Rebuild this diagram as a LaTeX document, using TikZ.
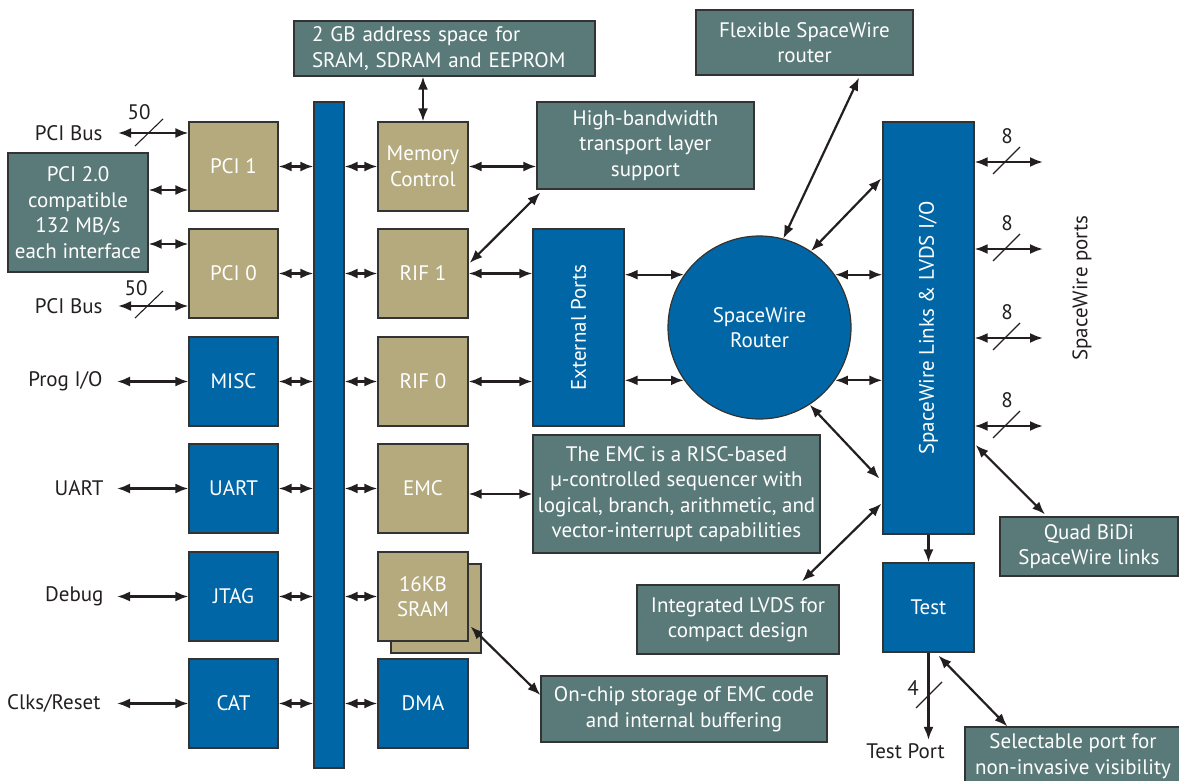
\documentclass[tikz,border=0pt]{standalone}
\usepackage{fontspec}
\setmainfont{PT Sans}
\usetikzlibrary{arrows.meta,calc}
\definecolor{chipblue}{RGB}{0,102,166}
\definecolor{chiptan}{RGB}{180,170,125}
\definecolor{noteteal}{RGB}{90,122,121}
\definecolor{edgegray}{RGB}{51,51,51}
\definecolor{inkblack}{RGB}{35,31,32}
\tikzset{
  >={Latex[length=13pt,width=10pt]},
  blk/.style={draw=edgegray,line width=1.2pt,inner sep=0pt,text=white,align=center},
  blueblk/.style={blk,fill=chipblue,minimum width=89pt,minimum height=89pt},
  tanblk/.style={blk,fill=chiptan,minimum width=90pt,minimum height=89pt},
  note/.style={blk,fill=noteteal},
  lbl/.style={text=inkblack},
  link/.style={<->,line width=2.2pt,draw=inkblack},
  oneway/.style={->,line width=2.2pt,draw=inkblack},
  slash/.style={line width=1.1pt,draw=inkblack},
  buswidth/.style={lbl,font=\fontsize{21}{24}\selectfont},
}
\begin{document}
\begin{tikzpicture}[x=1pt,y=-1pt,font=\fontsize{21}{25.5}\selectfont]
\useasboundingbox (0,0) rectangle (1179,781);

% bus
\node[blk,fill=chipblue,minimum width=30pt,minimum height=666pt] (bus) at (329,435) {};

% left column
\node[tanblk,minimum width=89pt] (pci1) at (233.5,166.5) {PCI 1};
\node[tanblk,minimum width=89pt] (pci0) at (233.5,273.5) {PCI 0};
\node[blueblk] (misc) at (233.5,381.5) {MISC};
\node[blueblk] (uart) at (233.5,488.5) {UART};
\node[blueblk] (jtag) at (233.5,596.5) {JTAG};
\node[blueblk] (cat) at (233.5,703.5) {CAT};

% right column
\node[tanblk] (memctl) at (423,166.5) {Memory\\Control};
\node[tanblk] (rif1) at (423,273.5) {RIF 1};
\node[tanblk] (rif0) at (423,381.5) {RIF 0};
\node[tanblk] (emc) at (423,488.5) {EMC};
\node[tanblk] (sramback) at (436,608.5) {};
\node[tanblk] (sram) at (423,596.5) {16KB\\SRAM};
\node[blueblk,minimum width=90pt] (dma) at (423,703.5) {DMA};

\foreach \n in {pci1,pci0,misc,uart,jtag,cat}
  \draw[link] (\n.east) -- (\n.east -| bus.west);
\foreach \n in {memctl,rif1,rif0,emc,sram,dma}
  \draw[link] (\n.west -| bus.east) -- (\n.west);

% PCI side
\node[lbl,anchor=east] (pcibus1) at (106,133) {PCI Bus};
\node[lbl,anchor=east] (pcibus0) at (106,306) {PCI Bus};
\draw[link] ([xshift=12pt]pcibus1.east) -- (pcibus1.east -| pci1.west);
\draw[link] ([xshift=12pt]pcibus0.east) -- (pcibus0.east -| pci0.west);
\draw[slash] (135,146) -- (163,119);
\node[buswidth] (bw50a) at (139,112) {50};
\draw[slash] (135,318) -- (163,291);
\node[buswidth] (bw50b) at (136,288) {50};

\node[note,minimum width=140pt,minimum height=119pt] (pcinote) at (78,212.5) {PCI 2.0\\compatible\\132 MB/s\\each interface};
\coordinate (p20a) at ($(pcinote.east)+(0,-22.5)$);
\coordinate (p20b) at ($(pcinote.east)+(0,31.5)$);
\draw[link] (p20a) -- (p20a -| pci1.west);
\draw[link] (p20b) -- (p20b -| pci0.west);

% other left inputs
\node[lbl,anchor=east] (progio) at (106,381.5) {Prog I/O};
\node[lbl,anchor=east] (uartio) at (107,488.5) {UART};
\node[lbl,anchor=east] (debug) at (107,596.5) {Debug};
\node[lbl,anchor=east] (clkrst) at (104,703.5) {Clks/Reset};
\draw[link] ([xshift=11pt]progio.east) -- (progio.east -| misc.west);
\draw[link] ([xshift=10pt]uartio.east) -- (uartio.east -| uart.west);
\draw[link] ([xshift=10pt]debug.east) -- (debug.east -| jtag.west);
\draw[link] ([xshift=13pt]clkrst.east) -- (clkrst.east -| cat.west);

% memory and transport notes
\node[note,minimum width=301pt,minimum height=55pt,text width=265pt,align=left] (gbnote) at (444.5,48.5) {2 GB address space for\\SRAM, SDRAM and EEPROM};
\draw[link] (memctl.north) -- (memctl.north |- gbnote.south);
\node[note,minimum width=217pt,minimum height=87pt] (hbnote) at (645.5,145.5) {High-bandwidth\\transport layer\\support};
\draw[link] (memctl.east) -- (memctl.east -| hbnote.west);
\draw[link] ($(rif1.east)+(1,-10.5)$) -- ($(hbnote.south west)+(4,3)$);

% external ports and router
\node[blk,fill=chipblue,minimum width=91pt,minimum height=197pt,label={[rotate=90,text=white]center:External Ports}] (ext) at (578.5,327.5) {};
\draw[link] (rif1.east) -- (rif1.east -| ext.west);
\draw[link] (rif0.east) -- (rif0.east -| ext.west);
\node[circle,draw=edgegray,line width=1.2pt,fill=chipblue,text=white,minimum size=183pt,inner sep=0pt,align=center,label={[text=white,align=center]center:SpaceWire\\Router}] (router) at (759.5,327.5) {};
\draw[link] (router.145 -| ext.east) -- (router.145);
\draw[link] (router.215 -| ext.east) -- (router.215);

\node[blk,fill=chipblue,minimum width=91pt,minimum height=412pt,label={[rotate=90,text=white]center:SpaceWire Links \& LVDS I/O}] (links) at (928.5,328) {};
\draw[link] (router.35) -- (router.35 -| links.west);
\draw[link] (router.-35) -- (router.-35 -| links.west);

\node[note,minimum width=217pt,minimum height=65pt] (flexnote) at (804.5,42.5) {Flexible SpaceWire\\router};
\draw[link] ($(flexnote.south west)!0.75!(flexnote.south east)+(0,2)$) -- (router.75);
\draw[link] (router.56) -- ($(links.north west)+(-1,57)$);
\draw[link] (router.-57) -- ($(links.south west)+(-3,-56)$);

\node[note,minimum width=202pt,minimum height=69pt] (lvdsnote) at (738,619.5) {Integrated LVDS for\\compact design};
\draw[link] ($(links.south west)+(-1,-31)$) -- ($(lvdsnote.north)+(64,-3)$);

% EMC and SRAM notes
\node[note,minimum width=287pt,minimum height=118pt] (emcnote) at (676.5,494) {The EMC is a RISC-based\\µ-controlled sequencer with\\logical, branch, arithmetic, and\\vector-interrupt capabilities};
\draw[link] (emcnote.west -| emc.east) -- (emcnote.west);
\node[note,minimum width=286pt,minimum height=66pt] (chipnote) at (684,709) {On-chip storage of EMC code\\and internal buffering};
\draw[link] ($(sram.east)+(2,30)$) -- ($(chipnote.west)+(0,-14)$);

% spacewire ports
\foreach \y [count=\i] in {162,249,338,426} {
  \coordinate (swp\i) at (1043,\y);
  \draw[link] (links.east |- swp\i) -- (swp\i);
  \draw[slash] (993,\y+12) -- (1020,\y-15);
  \node[buswidth] (bw\i) at (1007,\y-26) {8};
}
\node[lbl,rotate=90] (swports) at (1082,288) {SpaceWire ports};

\node[note,minimum width=178pt,minimum height=59pt] (quadnote) at (1089,546.5) {Quad BiDi\\SpaceWire links};
\draw[link] ($(links.east)+(1,117)$) -- ($(quadnote.north)+(-44,-2)$);

% test
\node[blueblk,minimum width=91pt] (test) at (928.5,607.5) {Test};
\draw[oneway] (links.south) -- (test.north);
\node[lbl] (testport) at (905.5,751) {Test Port};
\draw[oneway] (test.south) -- (test.south |- testport.north);
\draw[slash] (916,708) -- (942,682);
\node[buswidth] (bw4) at (913,688) {4};

\node[note,minimum width=216pt,minimum height=58pt] (selnote) at (1073,756) {Selectable port for\\non-invasive visibility};
\draw[link] ($(test.south)+(10,3)$) -- ($(selnote.north west)+(43,0)$);
\end{tikzpicture}
\end{document}
